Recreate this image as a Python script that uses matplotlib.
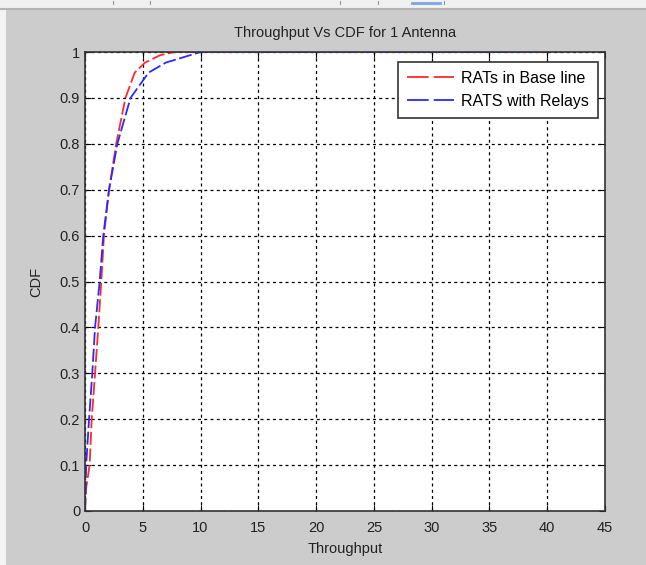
import matplotlib
matplotlib.use('Agg')
import matplotlib.pyplot as plt
from matplotlib.patches import Rectangle
from matplotlib.lines import Line2D

# empirical CDF of throughput, read per curve
base_x = [0, 0.1, 0.4, 0.58, 0.87, 1.15, 1.41, 1.64, 2.08, 2.7, 3.5, 4.3, 5.2, 6.5, 7.8, 40]
base_y = [0, 0.05, 0.1, 0.2, 0.3, 0.4, 0.5, 0.6, 0.7, 0.8, 0.9, 0.955, 0.977, 0.993, 1.0, 1.0]
relay_x = [0, 0.05, 0.1, 0.35, 0.63, 0.87, 1.27, 1.58, 2.08, 2.8, 3.94, 5.5, 7.0, 8.7, 10, 40]
relay_y = [0, 0.05, 0.1, 0.2, 0.3, 0.4, 0.5, 0.6, 0.7, 0.8, 0.9, 0.955, 0.977, 0.99, 1.0, 1.0]

xticks = list(range(0, 50, 5))
yticks = [0, 0.1, 0.2, 0.3, 0.4, 0.5, 0.6, 0.7, 0.8, 0.9, 1]
ytick_labels = ['0', '0.1', '0.2', '0.3', '0.4', '0.5', '0.6', '0.7', '0.8', '0.9', '1']

red = '#ff2a2a'
blue = '#2a2aff'

plt.rcParams['font.family'] = ['Liberation Sans', 'DejaVu Sans']
plt.rcParams['font.size'] = 10

fig = plt.figure(figsize=(6.46, 5.65), dpi=100)
fig.patch.set_facecolor('#cccccc')

# window chrome: toolbar strip on top, light strip on the left
fig.add_artist(Rectangle((0, 1 - 8 / 565), 1, 8 / 565, transform=fig.transFigure,
                         facecolor='#f0f0f0', edgecolor='none', zorder=0))
fig.add_artist(Line2D([0, 1], [1 - 9 / 565, 1 - 9 / 565], transform=fig.transFigure,
                      color='#b4b4b4', lw=1.5))
fig.add_artist(Rectangle((0, 0), 6 / 646, 1 - 9 / 565, transform=fig.transFigure,
                         facecolor='#f4f4f4', edgecolor='none', zorder=0))
for px in [113, 150, 340, 378, 444]:
    fig.add_artist(Line2D([px / 646, px / 646], [1 - 4 / 565, 1 - 1 / 565],
                          transform=fig.transFigure, color='#999999', lw=0.8))
fig.add_artist(Line2D([412 / 646, 440 / 646], [1 - 3 / 565, 1 - 3 / 565],
                      transform=fig.transFigure, color='#7aa7e0', lw=2))

ax = fig.add_axes([85 / 646, 1 - 511 / 565, 520 / 646, 459 / 565])
ax.set_facecolor('white')

ax.plot(base_x, base_y, color=red, lw=1.3, dashes=(7.2, 2))
ax.plot(relay_x, relay_y, color=blue, lw=1.3, dashes=(7.2, 2))

ax.set_xlim(0, 45)
ax.set_ylim(0, 1)
ax.set_xticks(xticks)
ax.set_yticks(yticks)
ax.set_yticklabels(ytick_labels)
ax.tick_params(direction='in', length=4, colors='black', labelcolor='#222222',
               labelsize=10.5, top=True, right=True)
ax.tick_params(axis='x', pad=7)
ax.grid(True, color='black', linestyle=(0, (2.4, 2.6)), lw=0.9)
for sp in ax.spines.values():
    sp.set_linewidth(1.2)
    sp.set_color('#333333')

ax.set_title('Throughput Vs CDF for 1 Antenna', fontsize=10.5, color='#222222', pad=11)
ax.set_xlabel('Throughput', fontsize=10.5, color='#222222', labelpad=5)
ax.set_ylabel('CDF', fontsize=10.5, color='#222222', labelpad=12)

# legend keys use longer dashes than the curves
handles = [Line2D([], [], color=red, lw=1.3, dashes=(12, 2.8)),
           Line2D([], [], color=blue, lw=1.3, dashes=(12, 2.8))]
leg = ax.legend(handles, ['RATs in Base line', 'RATS with Relays'],
                loc='upper right', bbox_to_anchor=(0.9865, 0.978), borderaxespad=0,
                fancybox=False, framealpha=1, edgecolor='#333333', fontsize=11.5,
                handlelength=2.95, handletextpad=0.45, borderpad=0.55, labelspacing=0.5)
leg.get_frame().set_linewidth(1.2)

fig.savefig('out.png', dpi=100, facecolor=fig.get_facecolor())
